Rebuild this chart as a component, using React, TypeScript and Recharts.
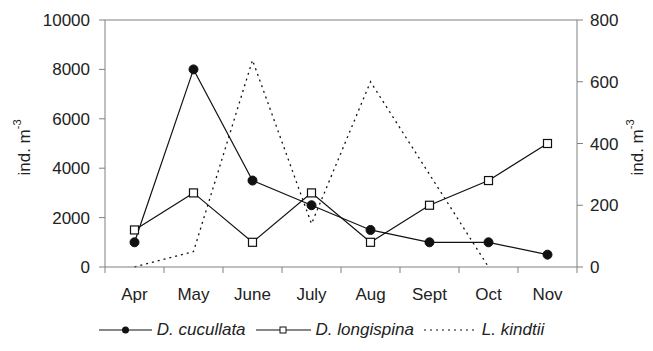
import React from 'react';
import { LineChart, Line, XAxis, YAxis, ReferenceLine, Legend } from 'recharts';

const months = ['Apr', 'May', 'June', 'July', 'Aug', 'Sept', 'Oct', 'Nov'];
const cucullata = [1000, 8000, 3500, 2500, 1500, 1000, 1000, 500];
const longispina = [1500, 3000, 1000, 3000, 1000, 2500, 3500, 5000];
const kindtii: (number | null)[] = [0, 50, 670, 140, 600, 300, 0, null];
const leftTicks = [0, 2000, 4000, 6000, 8000, 10000];
const rightTicks = [0, 200, 400, 600, 800];

const data = months.map((m, i) => ({
  month: m,
  cucullata: cucullata[i],
  longispina: longispina[i],
  kindtii: kindtii[i],
}));

const FONT = '"Liberation Sans", Arial, Helvetica, sans-serif';
const AXIS = '#808080';
const TEXT = '#222';
const X_TICK_MARGIN = 21;

const XTick = (props: any) => {
  const { x, y, payload, index } = props;
  const half = payload && typeof payload.offset === 'number' && payload.offset > 0 ? payload.offset : 29.5;
  const axisY = y - X_TICK_MARGIN;
  const last = index === months.length - 1;
  return (
    <g>
      <line x1={x - half} x2={x - half} y1={axisY} y2={axisY + 6} stroke={AXIS} strokeWidth={1} />
      {last && <line x1={x + half} x2={x + half} y1={axisY} y2={axisY + 6} stroke={AXIS} strokeWidth={1} />}
      <text x={x} y={y} dy="0.71em" textAnchor="middle" fontSize={17} fontFamily={FONT} fill={TEXT}>
        {payload.value}
      </text>
    </g>
  );
};

const AxisTitle = (props: any) => {
  const vb = props.viewBox || { x: 0, y: 20, width: 105, height: 247 };
  const cx = vb.x + props.dxPos;
  const cy = vb.y + vb.height / 2 + 4;
  return (
    <text
      transform={`rotate(-90, ${cx}, ${cy})`}
      x={cx}
      y={cy}
      textAnchor="middle"
      dominantBaseline="central"
      fontSize={17}
      fontFamily={FONT}
      fill={TEXT}
    >
      ind. m<tspan dy={-7} fontSize={11}>-3</tspan>
    </text>
  );
};

const Dot = (props: any) => {
  const { cx, cy } = props;
  if (cx == null || cy == null) return null;
  return <circle cx={cx} cy={cy} r={4.5} fill="#111" stroke="#111" />;
};

const Square = (props: any) => {
  const { cx, cy } = props;
  if (cx == null || cy == null) return null;
  return <rect x={cx - 4} y={cy - 4} width={8} height={8} fill="#fff" stroke="#111" strokeWidth={1.2} />;
};

const LegendContent = () => {
  const item = (icon: React.ReactNode, label: string) => (
    <div style={{ display: 'flex', alignItems: 'center', marginRight: 10 }}>
      {icon}
      <span style={{ fontStyle: 'italic', fontSize: 17, fontFamily: FONT, color: TEXT, marginLeft: 5 }}>{label}</span>
    </div>
  );
  return (
    <div style={{ display: 'flex', justifyContent: 'center', alignItems: 'center', height: 30 }}>
      {item(
        <svg width={53} height={12}>
          <line x1={0} x2={53} y1={6} y2={6} stroke="#111" strokeWidth={1.2} />
          <circle cx={26.5} cy={6} r={3.5} fill="#111" />
        </svg>,
        'D. cucullata'
      )}
      {item(
        <svg width={55} height={12}>
          <line x1={0} x2={55} y1={6} y2={6} stroke="#111" strokeWidth={1.2} />
          <rect x={24} y={3} width={6} height={6} fill="#fff" stroke="#111" strokeWidth={1} />
        </svg>,
        'D. longispina'
      )}
      {item(
        <svg width={53} height={12}>
          <line x1={0} x2={53} y1={6} y2={6} stroke="#111" strokeWidth={1.2} strokeDasharray="2 4" />
        </svg>,
        'L. kindtii'
      )}
    </div>
  );
};

export default function App() {
  return (
    <div style={{ position: 'absolute', left: 0, top: 0, background: '#fff' }}>
      <LineChart width={653} height={351} data={data} margin={{ top: 20, right: 0, bottom: 6, left: 0 }}>
        <XAxis
          dataKey="month"
          xAxisId="x"
          scale="band"
          height={48}
          axisLine={{ stroke: AXIS }}
          tickLine={false}
          tickSize={0}
          tickMargin={X_TICK_MARGIN}
          interval={0}
          tick={<XTick />}
        />
        <YAxis
          yAxisId="left"
          orientation="left"
          width={105}
          domain={[0, 10000]}
          ticks={leftTicks}
          interval={0}
          axisLine={{ stroke: AXIS }}
          tickLine={{ stroke: AXIS }}
          tickSize={6}
          tickMargin={9}
          tick={{ fontSize: 17, fontFamily: FONT, fill: TEXT }}
          label={<AxisTitle dxPos={24} />}
        />
        <YAxis
          yAxisId="right"
          orientation="right"
          width={76}
          domain={[0, 800]}
          ticks={rightTicks}
          interval={0}
          axisLine={{ stroke: AXIS }}
          tickLine={{ stroke: AXIS }}
          tickSize={6}
          tickMargin={7}
          tick={{ fontSize: 17, fontFamily: FONT, fill: TEXT, textAnchor: 'start' }}
          label={<AxisTitle dxPos={60} />}
        />
        <ReferenceLine xAxisId="x" yAxisId="left" y={10000} stroke={AXIS} strokeWidth={1} />
        <Legend verticalAlign="bottom" wrapperStyle={{ height: 30 }} content={<LegendContent />} />
        <Line
          xAxisId="x"
          yAxisId="right"
          dataKey="kindtii"
          type="linear"
          stroke="#111"
          strokeWidth={1.3}
          strokeDasharray="2 4"
          dot={false}
          activeDot={false}
          isAnimationActive={false}
          connectNulls={false}
        />
        <Line
          xAxisId="x"
          yAxisId="left"
          dataKey="cucullata"
          type="linear"
          stroke="#111"
          strokeWidth={1.2}
          dot={<Dot />}
          activeDot={false}
          isAnimationActive={false}
        />
        <Line
          xAxisId="x"
          yAxisId="left"
          dataKey="longispina"
          type="linear"
          stroke="#111"
          strokeWidth={1.2}
          dot={<Square />}
          activeDot={false}
          isAnimationActive={false}
        />
      </LineChart>
    </div>
  );
}
